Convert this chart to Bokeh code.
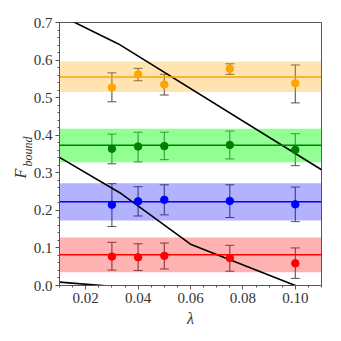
from bokeh.plotting import figure
from bokeh.models import Whisker, ColumnDataSource, FixedTicker, Title, Range1d
from bokeh.embed import file_html
from bokeh.resources import INLINE

lam = [0.03, 0.04, 0.05, 0.075, 0.10]

orange_y = [0.527, 0.562, 0.535, 0.577, 0.538]
orange_lo = [0.489, 0.545, 0.507, 0.562, 0.486]
orange_hi = [0.566, 0.578, 0.562, 0.590, 0.587]
orange_mean, orange_band = 0.555, (0.515, 0.596)

green_y = [0.364, 0.370, 0.371, 0.374, 0.361]
green_lo = [0.324, 0.329, 0.335, 0.337, 0.319]
green_hi = [0.403, 0.408, 0.408, 0.411, 0.404]
green_mean, green_band = 0.373, (0.328, 0.417)

blue_y = [0.215, 0.224, 0.228, 0.225, 0.216]
blue_lo = [0.157, 0.185, 0.188, 0.181, 0.170]
blue_hi = [0.271, 0.263, 0.268, 0.268, 0.262]
blue_mean, blue_band = 0.223, (0.173, 0.272)

red_y = [0.077, 0.075, 0.079, 0.073, 0.059]
red_lo = [0.041, 0.040, 0.044, 0.038, 0.019]
red_hi = [0.115, 0.111, 0.113, 0.107, 0.100]
red_mean, red_band = 0.082, (0.035, 0.128)

curve1_x = [0.010, 0.0325, 0.110]
curve1_y = [0.720, 0.643, 0.308]
curve2_x = [0.010, 0.033, 0.060, 0.100, 0.110]
curve2_y = [0.341, 0.247, 0.110, 0.000, -0.030]
curve3_x = [0.010, 0.035]
curve3_y = [0.009, -0.005]

x_ticks = [0.02, 0.04, 0.06, 0.08, 0.10]
x_labels = ["0.02", "0.04", "0.06", "0.08", "0.10"]
y_ticks = [0.0, 0.1, 0.2, 0.3, 0.4, 0.5, 0.6, 0.7]
y_labels = ["0.0", "0.1", "0.2", "0.3", "0.4", "0.5", "0.6", "0.7"]

XMIN, XMAX = 0.01, 0.11
FONT = "Liberation Serif"

p = figure(width=341, height=341, output_backend="svg", toolbar_location=None,
           x_range=Range1d(XMIN, XMAX), y_range=Range1d(0.0, 0.7),
           min_border_left=59, min_border_right=20, min_border_top=22, min_border_bottom=56)
p.grid.visible = False
p.outline_line_color = "#555555"
p.outline_line_width = 1
p.background_fill_color = "white"
p.border_fill_color = "white"

series = [
    ("orange", "#ffa500", "#ffa500", 0.30, orange_y, orange_lo, orange_hi, orange_mean, orange_band),
    ("green", "#008000", "#00ff00", 0.43, green_y, green_lo, green_hi, green_mean, green_band),
    ("blue", "#0000ff", "#0000ff", 0.30, blue_y, blue_lo, blue_hi, blue_mean, blue_band),
    ("red", "#ff0000", "#ff0000", 0.30, red_y, red_lo, red_hi, red_mean, red_band),
]

for name, col, bandcol, alpha, ys, lo, hi, mean, band in series:
    p.varea(x=[XMIN, XMAX], y1=[band[0], band[0]], y2=[band[1], band[1]],
            fill_color=bandcol, fill_alpha=alpha)

for cx, cy in [(curve1_x, curve1_y), (curve2_x, curve2_y), (curve3_x, curve3_y)]:
    p.line(cx, cy, line_color="black", line_width=1.6)

for name, col, bandcol, alpha, ys, lo, hi, mean, band in series:
    p.line([XMIN, XMAX], [mean, mean], line_color=col, line_width=1.5)
    src = ColumnDataSource(dict(x=lam, y=ys, lo=lo, hi=hi))
    w = Whisker(base="x", lower="lo", upper="hi", source=src, dimension="height",
                line_color="#555555", line_width=1.1)
    w.upper_head.size = 9
    w.lower_head.size = 9
    w.upper_head.line_color = "#555555"
    w.lower_head.line_color = "#555555"
    p.add_layout(w)
    p.scatter(x="x", y="y", source=src, size=7.5, fill_color=col, line_color=col)

for ax in (p.xaxis[0], p.yaxis[0]):
    ax.axis_line_color = "#555555"
    ax.major_tick_line_color = "#555555"
    ax.minor_tick_line_color = "#555555"
    ax.major_tick_out = 4
    ax.major_tick_in = 0
    ax.minor_tick_out = 2
    ax.minor_tick_in = 0
    ax.major_label_text_font = FONT
    ax.major_label_text_font_size = "15px"
    ax.major_label_text_color = "#333333"
    ax.major_label_standoff = 3

p.xaxis.ticker = FixedTicker(ticks=x_ticks,
                             minor_ticks=[0.01 + 0.005 * i for i in range(21)])
p.xaxis.major_label_overrides = {t: l for t, l in zip(x_ticks, x_labels)}
p.yaxis.ticker = FixedTicker(ticks=y_ticks,
                             minor_ticks=[0.02 * i for i in range(36)])
p.yaxis.major_label_overrides = {t: l for t, l in zip(y_ticks, y_labels)}

p.xaxis.axis_label = "λ"
p.xaxis.axis_label_text_font = FONT
p.xaxis.axis_label_text_font_style = "italic"
p.xaxis.axis_label_text_font_size = "16px"
p.xaxis.axis_label_standoff = 4
p.xaxis.axis_label_text_color = "#333333"

t_sub = Title(text="bound", align="left", offset=119, standoff=-8,
              text_font=FONT, text_font_style="italic", text_font_size="12px",
              text_color="#333333")
t_main = Title(text="F", align="left", offset=107, standoff=-12,
               text_font=FONT, text_font_style="italic", text_font_size="16px",
               text_color="#333333")
p.add_layout(t_sub, "left")
p.add_layout(t_main, "left")

open("out.html", "w").write(file_html(p, INLINE))
